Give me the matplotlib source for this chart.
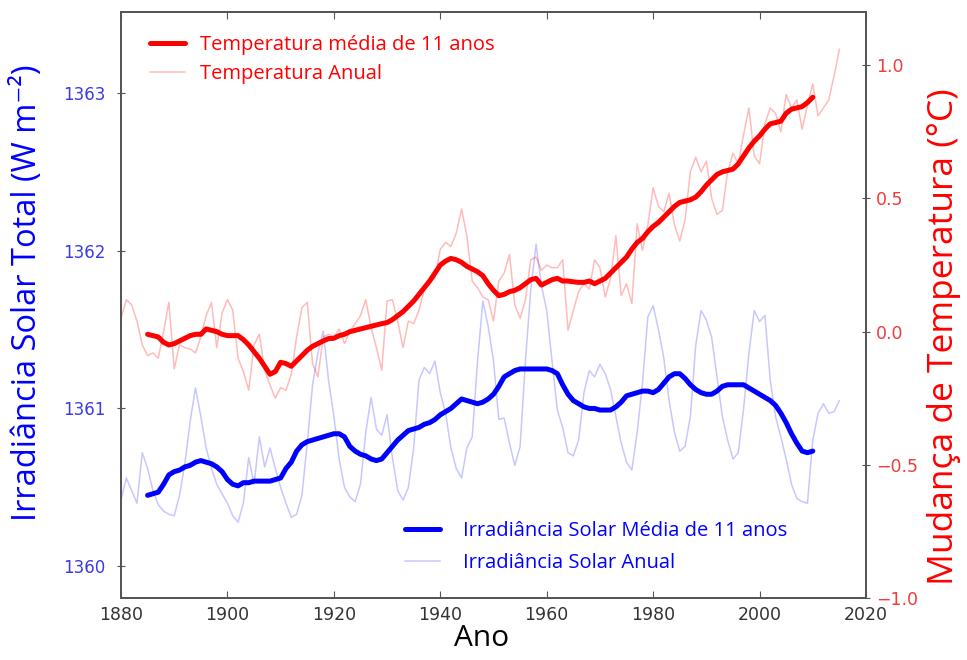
import numpy as np
import matplotlib
matplotlib.use("Agg")
import matplotlib.pyplot as plt

# annual values, 1880-2015
years = np.arange(1880, 2016)
temp_annual = [
    0.05, 0.12, 0.10, 0.04, -0.05, -0.09, -0.08, -0.10, 0.0, 0.11,
    -0.14, -0.05, -0.06, -0.065, -0.08, -0.02, 0.06, 0.11, -0.06, 0.07,
    0.12, 0.08, -0.10, -0.15, -0.22, -0.05, -0.01, -0.145, -0.20, -0.25,
    -0.21, -0.22, -0.16, -0.02, 0.09, 0.11, -0.12, -0.17, -0.02, -0.01,
    -0.02, 0.01, -0.045, 0.0, 0.03, 0.06, 0.12, 0.015, -0.06, -0.145,
    0.115, 0.12, 0.04, -0.06, 0.04, 0.03, 0.08, 0.16, 0.19, 0.20,
    0.31, 0.335, 0.32, 0.37, 0.46, 0.36, 0.19, 0.165, 0.13, 0.12,
    0.04, 0.19, 0.22, 0.29, 0.10, 0.05, 0.12, 0.27, 0.28, 0.23,
    0.25, 0.24, 0.24, 0.27, 0.005, 0.08, 0.15, 0.18, 0.16, 0.27,
    0.24, 0.13, 0.20, 0.36, 0.135, 0.18, 0.105, 0.405, 0.305, 0.40,
    0.54, 0.47, 0.45, 0.52, 0.40, 0.34, 0.42, 0.60, 0.655, 0.60,
    0.64, 0.50, 0.44, 0.455, 0.60, 0.67, 0.63, 0.74, 0.84, 0.66,
    0.63, 0.78, 0.84, 0.82, 0.75, 0.89, 0.84, 0.87, 0.76, 0.85,
    0.93, 0.81, 0.84, 0.87, 0.96, 1.06,
]
solar_annual = [
    1360.42, 1360.56, 1360.48, 1360.40, 1360.72, 1360.62, 1360.48, 1360.39, 1360.35, 1360.33,
    1360.32, 1360.45, 1360.65, 1360.92, 1361.13, 1360.95, 1360.75, 1360.62, 1360.52, 1360.46,
    1360.40, 1360.32, 1360.28, 1360.40, 1360.69, 1360.52, 1360.82, 1360.63, 1360.75, 1360.62,
    1360.50, 1360.40, 1360.31, 1360.33, 1360.45, 1360.78, 1361.15, 1361.35, 1361.49, 1361.18,
    1360.95, 1360.68, 1360.50, 1360.44, 1360.41, 1360.52, 1360.85, 1361.07, 1360.87, 1360.83,
    1360.96, 1360.69, 1360.48, 1360.42, 1360.50, 1360.75, 1361.18, 1361.26, 1361.22, 1361.30,
    1361.10, 1360.97, 1360.75, 1360.62, 1360.56, 1360.75, 1360.82, 1361.30, 1361.68, 1361.52,
    1361.30, 1360.93, 1360.94, 1360.78, 1360.64, 1360.76, 1361.30, 1361.75, 1362.04, 1361.78,
    1361.62, 1361.30, 1360.99, 1360.88, 1360.72, 1360.70, 1360.80, 1361.10, 1361.24, 1361.20,
    1361.28, 1361.22, 1361.12, 1360.95, 1360.78, 1360.66, 1360.61, 1360.85, 1361.16, 1361.58,
    1361.65, 1361.50, 1361.32, 1361.05, 1360.85, 1360.73, 1360.76, 1360.95, 1361.40, 1361.62,
    1361.56, 1361.45, 1361.20, 1360.95, 1360.80, 1360.68, 1360.72, 1361.00, 1361.35, 1361.62,
    1361.55, 1361.59, 1361.18, 1360.95, 1360.82, 1360.68, 1360.52, 1360.43, 1360.41, 1360.40,
    1360.80, 1360.97, 1361.03, 1360.97, 1360.98, 1361.05,
]

# 11-year means, 1885-2010
years_avg = np.arange(1885, 2011)
temp_avg = [
    -0.01, -0.015, -0.02, -0.04, -0.05, -0.045, -0.035, -0.025, -0.015, -0.01,
    -0.01, 0.01, 0.005, 0.0, -0.01, -0.015, -0.015, -0.015, -0.03, -0.05,
    -0.075, -0.10, -0.13, -0.16, -0.15, -0.115, -0.12, -0.13, -0.11, -0.09,
    -0.07, -0.055, -0.045, -0.035, -0.026, -0.025, -0.015, -0.01, 0.0, 0.005,
    0.01, 0.015, 0.02, 0.025, 0.03, 0.034, 0.045, 0.06, 0.075, 0.095,
    0.115, 0.14, 0.165, 0.19, 0.22, 0.25, 0.265, 0.275, 0.27, 0.26,
    0.245, 0.235, 0.225, 0.21, 0.18, 0.155, 0.135, 0.14, 0.15, 0.155,
    0.165, 0.18, 0.195, 0.20, 0.175, 0.185, 0.195, 0.20, 0.19, 0.19,
    0.187, 0.185, 0.185, 0.19, 0.18, 0.19, 0.20, 0.22, 0.24, 0.26,
    0.28, 0.31, 0.335, 0.35, 0.375, 0.395, 0.41, 0.43, 0.45, 0.47,
    0.485, 0.49, 0.495, 0.505, 0.525, 0.55, 0.57, 0.59, 0.60, 0.605,
    0.61, 0.63, 0.66, 0.69, 0.715, 0.735, 0.76, 0.78, 0.785, 0.79,
    0.82, 0.835, 0.84, 0.845, 0.86, 0.88,
]
solar_avg = [
    1360.45, 1360.46, 1360.47, 1360.52, 1360.58, 1360.60, 1360.61, 1360.63, 1360.64, 1360.66,
    1360.67, 1360.66, 1360.65, 1360.63, 1360.60, 1360.55, 1360.52, 1360.51, 1360.53, 1360.53,
    1360.54, 1360.54, 1360.54, 1360.54, 1360.55, 1360.56, 1360.62, 1360.66, 1360.73, 1360.77,
    1360.79, 1360.80, 1360.81, 1360.82, 1360.83, 1360.84, 1360.84, 1360.82, 1360.76, 1360.73,
    1360.71, 1360.70, 1360.68, 1360.67, 1360.68, 1360.72, 1360.76, 1360.80, 1360.83, 1360.86,
    1360.87, 1360.88, 1360.90, 1360.91, 1360.93, 1360.96, 1360.98, 1361.00, 1361.03, 1361.06,
    1361.05, 1361.04, 1361.03, 1361.04, 1361.06, 1361.09, 1361.14, 1361.20, 1361.22, 1361.24,
    1361.25, 1361.25, 1361.25, 1361.25, 1361.25, 1361.25, 1361.24, 1361.22, 1361.15, 1361.09,
    1361.05, 1361.03, 1361.01, 1361.00, 1361.00, 1360.99, 1360.99, 1360.99, 1361.01, 1361.04,
    1361.08, 1361.09, 1361.10, 1361.11, 1361.11, 1361.10, 1361.12, 1361.16, 1361.20, 1361.22,
    1361.22, 1361.19, 1361.15, 1361.12, 1361.10, 1361.09, 1361.09, 1361.11, 1361.14, 1361.15,
    1361.15, 1361.15, 1361.15, 1361.13, 1361.11, 1361.09, 1361.07, 1361.05, 1361.02, 1360.97,
    1360.91, 1360.84, 1360.78, 1360.73, 1360.72, 1360.73,
]

W, H = 967, 660
fig = plt.figure(figsize=(W / 100, H / 100), dpi=100)
ax = fig.add_axes([121 / W, 1 - 598 / H, (866 - 121) / W, (598 - 12) / H])
ax2 = ax.twinx()

blue = "#0000ff"
red = "#ff0000"
lblue = "#3a3ae8"
lred = "#f03c3c"

s1, = ax.plot(years_avg, solar_avg, color=blue, lw=3.6, solid_capstyle="round")
s2, = ax.plot(years, solar_annual, color=blue, lw=1.1, alpha=0.22)
t1, = ax2.plot(years_avg, temp_avg, color=red, lw=3.6, solid_capstyle="round")
t2, = ax2.plot(years, temp_annual, color=red, lw=1.1, alpha=0.27)

ax.set_xlim(1880, 2020)
ax.set_ylim(1359.8, 1363.51)
ax2.set_ylim(-1.0, 1.2)
ax.set_xticks(np.arange(1880, 2021, 20))
ax.set_yticks([1360, 1361, 1362, 1363])
ax2.set_yticks([-1.0, -0.5, 0.0, 0.5, 1.0])

for a in (ax, ax2):
    for sp in a.spines.values():
        sp.set_color("#555555")
        sp.set_linewidth(1.3)

ax.tick_params(axis="x", direction="in", top=True, length=5, labelsize=12.5,
               labelcolor="#333333", color="#555555", pad=6)
ax.tick_params(axis="y", direction="inout", length=6, labelsize=12,
               labelcolor=lblue, color="#555555", pad=8)
ax2.tick_params(axis="y", direction="inout", length=6, labelsize=12.5,
                labelcolor=lred, color="#555555", pad=4)

lab = ["Open Sans", "DejaVu Sans"]
ax.set_xlabel("Ano", fontsize=21.5, family=lab, color="black")
ax.xaxis.set_label_coords((482 - 121) / 745, (598 - 639) / 586)
ax.xaxis.label.set_va("center")

ax.set_ylabel("Irradiância Solar Total (W m⁻²)", fontsize=23.5, family=lab, color=blue)
ax.yaxis.set_label_coords((28 - 121) / 745, (598 - 293) / 586)
ax.yaxis.label.set_va("center")
ax.yaxis.label.set_ha("center")

ax2.set_ylabel("Mudança de Temperatura (°C)", fontsize=25.5, family=lab, color=red)
ax2.yaxis.set_label_coords((944 - 121) / 745, (598 - 337) / 586)
ax2.yaxis.label.set_va("center")
ax2.yaxis.label.set_ha("center")

leg1 = fig.legend([t1, t2], ["Temperatura média de 11 anos", "Temperatura Anual"],
                  loc="upper left", bbox_to_anchor=(150 / W, 1 - 35 / H),
                  frameon=False, borderpad=0, borderaxespad=0,
                  handlelength=1.75, handletextpad=0.75, labelspacing=0.44,
                  prop={"family": "Open Sans", "size": 14.5})
for t in leg1.get_texts():
    t.set_color(red)

leg2 = fig.legend([s1, s2], ["Irradiância Solar Média de 11 anos", "Irradiância Solar Anual"],
                  loc="upper left", bbox_to_anchor=(405 / W, 1 - 521 / H),
                  frameon=False, borderpad=0, borderaxespad=0,
                  handlelength=1.75, handletextpad=1.15, labelspacing=0.59,
                  prop={"family": "Open Sans", "size": 14.5})
for t in leg2.get_texts():
    t.set_color(blue)

fig.savefig("out.png", dpi=100)
